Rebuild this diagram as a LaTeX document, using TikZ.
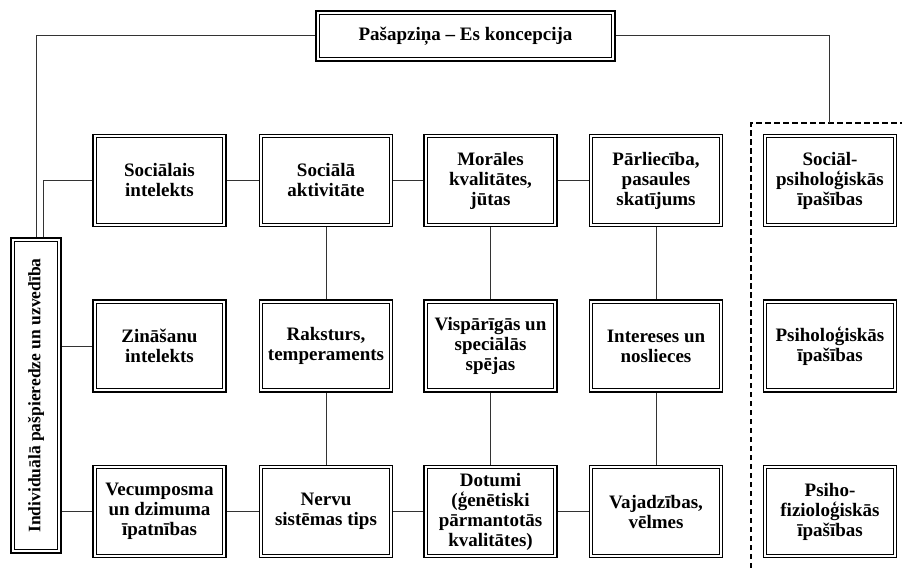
\documentclass[tikz,border=0pt]{standalone}
\usepackage{fontspec}
\usepackage{graphicx}
\setmainfont{Liberation Serif}
\begin{document}
\begin{tikzpicture}[x=1bp,y=-1bp,
  every node/.style={font=\fontsize{19bp}{20bp}\selectfont\bfseries, align=center, inner sep=0pt},
  framed/.style={draw, line width=1.7bp},
  cell/.style={framed, minimum width=133bp, minimum height=92bp},
  link/.style={draw=black!80, line width=1bp},
  zone/.style={line width=2.4bp, dash pattern=on 5.5bp off 3.5bp}]
\useasboundingbox (0,0) rectangle (902,568);

% title and the vertical side box
\node[framed, minimum width=299bp, minimum height=50bp] (top) at (465.5,36) {Pašapziņa – Es koncepcija};
\node[framed, minimum width=50bp, minimum height=315bp, font=\fontsize{17.5bp}{20bp}\selectfont\bfseries] (vbox) at (36,395.5)
  {\rotatebox{90}{Individuālā pašpieredze un uzvedība}};

% first row
\node[cell] (a1) at (159.5,180.5) {Sociālais\\intelekts};
\node[cell] (a2) at (326,180.5) {Sociālā\\aktivitāte};
\node[cell] (a3) at (490.5,180.5) {Morāles\\kvalitātes,\\jūtas};
\node[cell] (a4) at (656,180.5) {Pārliecība,\\pasaules\\skatījums};
\node[cell] (a5) at (830,180.5) {Sociāl-\\psiholoģiskās\\īpašības};

% second row
\node[cell] (b1) at (159.5,346) {Zināšanu\\intelekts};
\node[cell] (b2) at (326,346) {Raksturs,\\temperaments};
\node[cell] (b3) at (490.5,346) {Vispārīgās un\\speciālās\\spējas};
\node[cell] (b4) at (656,346) {Intereses un\\noslieces};
\node[cell] (b5) at (830,346) {Psiholoģiskās\\īpašības};

% third row
\node[cell] (c1) at (159.5,511.5) {Vecumposma\\un dzimuma\\īpatnības};
\node[cell] (c2) at (326,511.5) {Nervu\\sistēmas tips};
\node[cell] (c3) at (490.5,511.5) {Dotumi\\(ģenētiski\\pārmantotās\\kvalitātes)};
\node[cell] (c4) at (656,511.5) {Vajadzības,\\vēlmes};
\node[cell] (c5) at (830,511.5) {Psiho-\\fizioloģiskās\\īpašības};

% inner frame lines of the double borders
\foreach \n in {top,vbox,a1,a2,a3,a4,a5,b1,b2,b3,b4,b5,c1,c2,c3,c4,c5}
  \draw[line width=0.8bp] ([shift={(4bp,4bp)}]\n.south west) rectangle ([shift={(-4bp,-4bp)}]\n.north east);

% dashed frame around the right column
\coordinate (zc) at (751,123);
\coordinate (zt) at (829,123);
\coordinate (zb) at (751,568);
\coordinate (zr) at (902,123);
\draw[zone] (zb) -- (zc) -- (zr);

% connectors from the title
\coordinate (vj) at ([xshift=7bp]vbox.north);
\draw[link] (top.west) -| (vbox.north);
\draw[link] (top.east) -| (zt);

% row connectors
\draw[link] (a1.west) -| (vj);
\draw[link] (a1.east) -- (a2.west);
\draw[link] (a2.east) -- (a3.west);
\draw[link] (a3.east) -- (a4.west);
\draw[link] (b1.west) -- (b1.west -| vbox.east);
\draw[link] (c1.west) -- (c1.west -| vbox.east);
\draw[link] (c1.east) -- (c2.west);
\draw[link] (c2.east) -- (c3.west);
\draw[link] (c3.east) -- (c4.west);

% column connectors
\draw[link] (a2.south) -- (b2.north);
\draw[link] (b2.south) -- (c2.north);
\draw[link] (a3.south) -- (b3.north);
\draw[link] (b3.south) -- (c3.north);
\draw[link] (a4.south) -- (b4.north);
\draw[link] (b4.south) -- (c4.north);
\end{tikzpicture}
\end{document}
